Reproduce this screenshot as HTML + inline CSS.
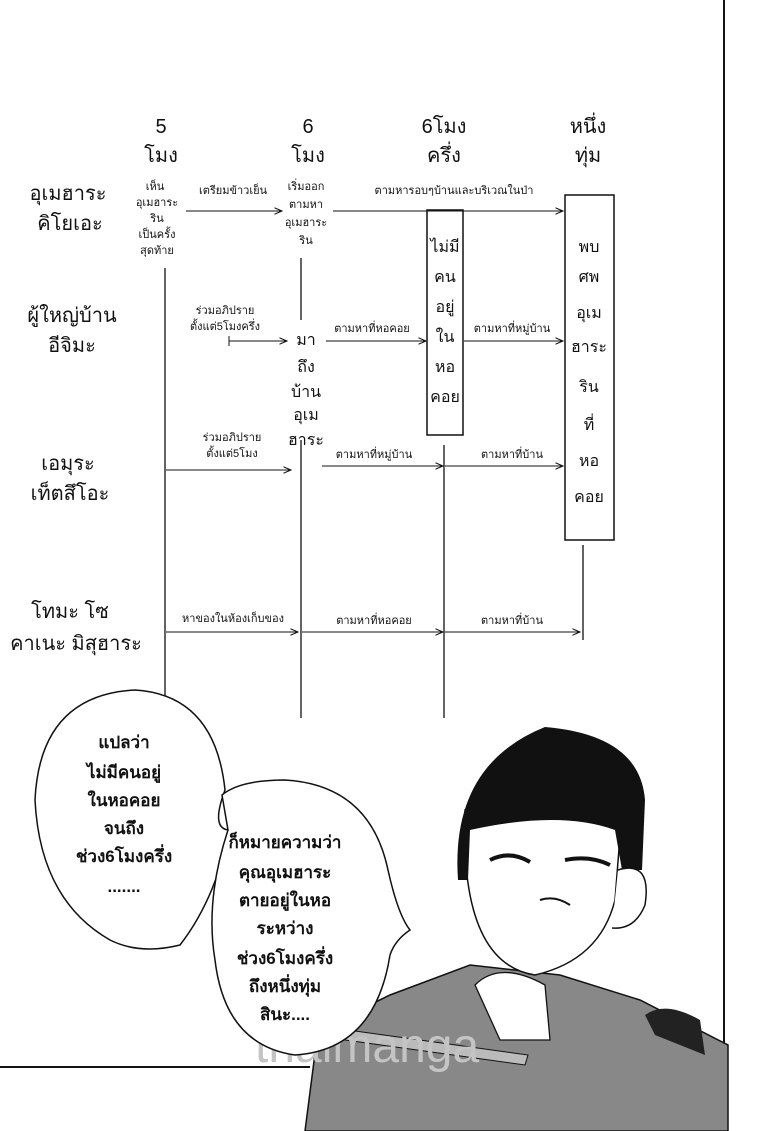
<!DOCTYPE html>
<html><head><meta charset="utf-8"><style>
html,body{margin:0;padding:0;background:#fff}
svg{display:block}
text{font-family:"Liberation Sans","Noto Sans CJK SC",sans-serif;fill:#111}
</style></head><body>
<svg width="780" height="1131" viewBox="0 0 780 1131" xmlns="http://www.w3.org/2000/svg">
<defs><marker id="a" markerWidth="8" markerHeight="8" refX="7" refY="4" orient="auto"><path d="M0,1 L7,4 L0,7" fill="none" stroke="#111" stroke-width="1"/></marker></defs>
<rect width="780" height="1131" fill="#fff"/>
<line x1="724" y1="0" x2="724" y2="1045" stroke="#111" stroke-width="2"/>
<line x1="0" y1="1067" x2="310" y2="1067" stroke="#111" stroke-width="2"/>
<g font-size="20" text-anchor="middle">
<text x="161" y="133">5</text><text x="161" y="162">โมง</text>
<text x="308" y="133">6</text><text x="308" y="162">โมง</text>
<text x="444" y="133">6โมง</text><text x="444" y="162">ครึ่ง</text>
<text x="588" y="133">หนึ่ง</text><text x="588" y="162">ทุ่ม</text>
</g>
<g font-size="20" text-anchor="middle">
<text x="68" y="200">อุเมฮาระ</text><text x="70" y="230">คิโยเอะ</text>
<text x="72" y="322">ผู้ใหญ่บ้าน</text><text x="72" y="352">อีจิมะ</text>
<text x="68" y="470">เอมุระ</text><text x="70" y="500">เท็ตสึโอะ</text>
<text x="70" y="618">โทมะ โซ</text><text x="76" y="650">คาเนะ มิสุฮาระ</text>
</g>
<g stroke="#111" stroke-width="1.3">
<line x1="165" y1="268" x2="165" y2="715"/>
<line x1="301" y1="258" x2="301" y2="320"/>
<line x1="301" y1="440" x2="301" y2="718"/>
<line x1="444" y1="445" x2="444" y2="718"/>
<line x1="583" y1="545" x2="583" y2="640"/>
</g>
<rect x="427" y="210" width="36" height="225" fill="#fff" stroke="#111" stroke-width="1.5"/>
<rect x="565" y="195" width="49" height="345" fill="#fff" stroke="#111" stroke-width="1.5"/>
<g font-size="16" text-anchor="middle">
<text x="445" y="252">ไม่มี</text><text x="445" y="282">คน</text><text x="445" y="312">อยู่</text><text x="445" y="342">ใน</text><text x="445" y="372">หอ</text><text x="445" y="402">คอย</text>
<text x="589" y="252">พบ</text><text x="589" y="282">ศพ</text><text x="589" y="318">อุเม</text><text x="589" y="352">ฮาระ</text><text x="589" y="392">ริน</text><text x="589" y="430">ที่</text><text x="589" y="466">หอ</text><text x="589" y="502">คอย</text>
</g>
<g font-size="11" text-anchor="middle">
<text x="155" y="190">เห็น</text><text x="157" y="206">อุเมฮาระ</text><text x="157" y="222">ริน</text><text x="157" y="238">เป็นครั้ง</text><text x="157" y="254">สุดท้าย</text>
<text x="233" y="194">เตรียมข้าวเย็น</text>
<text x="306" y="190">เริ่มออก</text><text x="306" y="208">ตามหา</text><text x="306" y="226">อุเมฮาระ</text><text x="306" y="244">ริน</text>
<text x="454" y="194">ตามหารอบๆบ้านและบริเวณในป่า</text>
<text x="225" y="314">ร่วมอภิปราย</text><text x="225" y="330">ตั้งแต่5โมงครึ่ง</text>
<text x="372" y="332">ตามหาที่หอคอย</text><text x="512" y="332">ตามหาที่หมู่บ้าน</text>
<text x="232" y="441">ร่วมอภิปราย</text><text x="232" y="457">ตั้งแต่5โมง</text>
<text x="374" y="458">ตามหาที่หมู่บ้าน</text><text x="512" y="458">ตามหาที่บ้าน</text>
<text x="233" y="622">หาของในห้องเก็บของ</text><text x="374" y="624">ตามหาที่หอคอย</text><text x="512" y="624">ตามหาที่บ้าน</text>
</g>
<g font-size="16" text-anchor="middle">
<text x="306" y="345">มา</text><text x="306" y="372">ถึง</text><text x="306" y="397">บ้าน</text><text x="306" y="420">อุเม</text><text x="306" y="445">ฮาระ</text>
</g>
<g stroke="#111" stroke-width="1.1" fill="none" marker-end="url(#a)">
<line x1="186" y1="211" x2="282" y2="211"/>
<line x1="333" y1="211" x2="563" y2="211"/>
<line x1="229" y1="341" x2="287" y2="341"/>
<line x1="326" y1="341" x2="426" y2="341"/>
<line x1="464" y1="341" x2="563" y2="341"/>
<line x1="166" y1="470" x2="291" y2="470"/>
<line x1="322" y1="466" x2="443" y2="466"/>
<line x1="445" y1="466" x2="563" y2="466"/>
<line x1="166" y1="632" x2="298" y2="632"/>
<line x1="302" y1="632" x2="443" y2="632"/>
<line x1="445" y1="632" x2="580" y2="632"/>
</g>
<line x1="229" y1="336" x2="229" y2="346" stroke="#111"/>
<!-- man -->
<path d="M305,1131 L318,1030 L390,995 L470,965 L560,975 L640,1000 L728,1045 L728,1131 Z" fill="#888" stroke="#111" stroke-width="1.5"/>
<path d="M465,850 Q470,965 535,975 Q600,960 615,900 L622,810 L465,810 Z" fill="#fff" stroke="#111" stroke-width="1.5"/>
<path d="M458,880 Q450,765 545,727 Q640,735 645,800 L642,870 L622,870 L615,830 Q560,810 470,830 L468,880 Z" fill="#111"/>
<path d="M618,870 Q652,860 645,905 Q635,930 612,928" fill="#fff" stroke="#111" stroke-width="1.5"/>
<path d="M540,900 Q555,895 570,905" fill="none" stroke="#111" stroke-width="2"/>
<path d="M490,860 Q510,850 530,862" fill="none" stroke="#111" stroke-width="4"/>
<path d="M565,860 Q590,855 610,865" fill="none" stroke="#111" stroke-width="4"/>
<path d="M345,1040 L525,1065 L528,1055 L348,1030 Z" fill="#bbb" stroke="#111"/>
<path d="M475,985 Q500,960 545,985 L550,1040 L500,1040 Z" fill="#fff" stroke="#111" stroke-width="1.3"/>
<path d="M645,1015 Q665,1000 700,1020 L705,1055 L655,1035 Z" fill="#222"/>
<text x="255" y="1062" font-size="48" style="fill:#c4c4c4">thaimanga</text>
<!-- bubbles -->
<path d="M110,940 Q40,900 35,800 Q40,695 135,690 Q215,695 225,790 Q210,830 230,830 Q215,900 180,945 Q140,955 110,940 Z" fill="#fff" stroke="#111" stroke-width="1.5"/>
<path d="M222,795 Q240,780 285,780 Q370,785 388,870 Q398,915 410,930 Q395,940 390,955 Q375,1050 295,1055 Q225,1045 215,960 Q205,900 228,830 Z" fill="#fff" stroke="#111" stroke-width="1.5"/>
<g font-size="17" font-weight="bold" text-anchor="middle">
<text x="124" y="748">แปลว่า</text><text x="124" y="778">ไม่มีคนอยู่</text><text x="124" y="806">ในหอคอย</text><text x="124" y="834">จนถึง</text><text x="124" y="862">ช่วง6โมงครึ่ง</text><text x="124" y="892">.......</text>
<text x="285" y="848">ก็หมายความว่า</text><text x="285" y="878">คุณอุเมฮาระ</text><text x="285" y="906">ตายอยู่ในหอ</text><text x="285" y="934">ระหว่าง</text><text x="285" y="964">ช่วง6โมงครึ่ง</text><text x="285" y="992">ถึงหนึ่งทุ่ม</text><text x="285" y="1020">สินะ....</text>
</g>
</svg>
</body></html>
